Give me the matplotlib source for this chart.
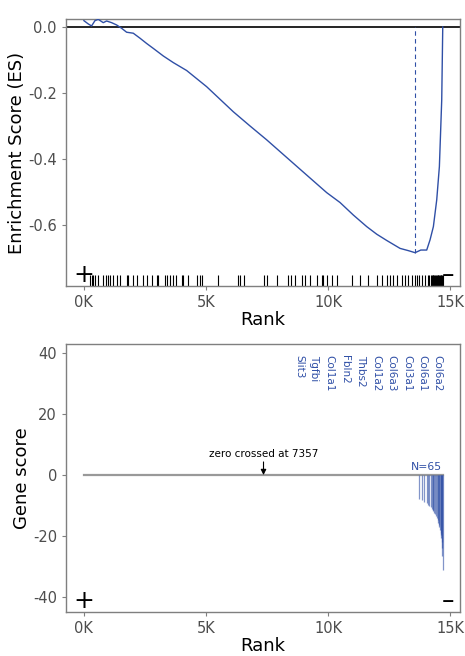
import matplotlib
matplotlib.use("Agg")
import matplotlib.pyplot as plt
import numpy as np

plt.rcParams['font.family'] = ['DejaVu Sans']
plt.rcParams['axes.unicode_minus'] = False

# ---------------- data ----------------
n_genes = 14700
zero_cross = 7357
n_label = "N=65"

# running enrichment score
es_rank = [0, 180, 314, 451, 587, 792, 929, 1134, 1339, 1544, 1749, 2022, 2295,
           2568, 2842, 3252, 3661, 4003, 4208, 5027, 6120, 6803, 7486, 8852,
           9945, 10492, 11038, 11585, 11995, 12405, 12951, 13300, 13566, 13800,
           14043, 14180, 14316, 14453, 14562, 14658, 14700]
es_value = [0.019, 0.009, 0.003, 0.019, 0.023, 0.013, 0.018, 0.013, 0.006, -0.004,
            -0.016, -0.019, -0.034, -0.050, -0.065, -0.088, -0.108, -0.123, -0.132,
            -0.181, -0.257, -0.300, -0.342, -0.431, -0.502, -0.532, -0.570, -0.605,
            -0.628, -0.647, -0.671, -0.678, -0.684, -0.676, -0.676, -0.645, -0.605,
            -0.524, -0.423, -0.221, 0.0]
es_peak_rank = 13566

# ranks of gene-set members (rug)
rug_ranks = [246, 314, 383, 451, 587, 792, 902, 997, 1066, 1175, 1339, 1475, 1749,
             1817, 2022, 2158, 2432, 2596, 2773, 2978, 3046, 3320, 3388, 3525, 3661,
             3770, 4003, 4071, 4276, 4617, 4754, 4822, 5505, 6325, 6393, 6571, 7391,
             7486, 7896, 8374, 8484, 8648, 8921, 9057, 9262, 9535, 9740, 9808, 9973,
             10150, 10355, 10970, 11311, 11653, 11995, 12200, 12405, 12541, 12678,
             12842, 13019, 13156, 13292, 13429, 13566, 13634, 13743, 13839, 13975,
             14111, 14152, 14200, 14248, 14290, 14316, 14350, 14385, 14420, 14453,
             14490, 14521, 14562, 14590, 14617, 14644, 14672, 14695]

# gene scores of the visible (strongly negative) members
bar_ranks = [13743, 13839, 13934, 14043, 14111, 14152, 14200, 14248, 14290, 14316,
             14350, 14385, 14420, 14453, 14490, 14521, 14545, 14562, 14590, 14617,
             14630, 14644, 14658, 14672, 14685, 14695]
bar_scores = [-7.8, -8.2, -8.8, -9.3, -9.8, -10.2, -10.6, -11.0, -11.5, -11.9,
              -12.4, -12.9, -13.5, -14.1, -14.8, -15.6, -16.3, -17.2, -18.0, -19.0,
              -19.8, -20.8, -22.0, -24.0, -26.5, -31.0]

gene_labels = ["Slit3", "Tgfbi", "Col1a1", "Fbln2", "Thbs2", "Col1a2", "Col6a3",
               "Col3a1", "Col6a1", "Col6a2"]

es_ticks = [0.0, -0.2, -0.4, -0.6]
score_ticks = [40, 20, 0, -20, -40]
rank_ticks = [0, 5000, 10000, 15000]
rank_ticklabels = ["0K", "5K", "10K", "15K"]

# ---------------- style ----------------
blue = '#2F4FA6'
frame_col = '#7f7f7f'
tick_col = '#4d4d4d'

fig = plt.figure(figsize=(4.65, 6.56), dpi=100)
ax1 = fig.add_axes([0.1419, 0.564, 0.8473, 0.407])
ax2 = fig.add_axes([0.1419, 0.0671, 0.8473, 0.4085])

xlim = (-0.05 * n_genes, 1.048 * n_genes)


def style(ax):
    for s in ax.spines.values():
        s.set_color(frame_col)
        s.set_linewidth(1.0)
    ax.tick_params(colors=frame_col, labelcolor=tick_col, labelsize=10.5,
                   length=3, width=0.8)
    ax.set_xlim(*xlim)
    ax.set_xticks(rank_ticks)
    ax.set_xticklabels(rank_ticklabels)
    ax.set_xlabel("Rank", fontsize=13, labelpad=1)


# ---- top panel ----
style(ax1)
ax1.set_ylim(-0.785, 0.024)
ax1.axhline(0, color='black', lw=1.2, zorder=1)
ax1.plot(es_rank, es_value, color=blue, lw=1.0, zorder=3)
min_es = min(es_value)
ax1.plot([es_peak_rank, es_peak_rank], [min_es, 0], color=blue, lw=0.8,
         ls=(0, (4, 3)), zorder=2)
ax1.vlines(rug_ranks, -0.785, -0.752, color='black', lw=0.8, zorder=2)
ax1.text(0, -0.752, "+", fontsize=18, ha='center', va='center', color='black')
ax1.text(n_genes * 1.015, -0.752, "–", fontsize=18, ha='center', va='center',
         color='black')
ax1.set_yticks(es_ticks)
ax1.set_yticklabels([f"{t:.1f}" for t in es_ticks])
ax1.set_ylabel("Enrichment Score (ES)", fontsize=13, labelpad=1.5)

# ---- bottom panel ----
style(ax2)
ax2.set_ylim(-44.9, 42.95)
ax2.plot([0, n_genes], [0, 0], color='#999999', lw=1.6, zorder=1)
ax2.vlines(bar_ranks, 0, bar_scores, color=blue, lw=0.9, alpha=0.6, zorder=2)
ax2.annotate("zero crossed at " + str(zero_cross), xy=(zero_cross, 0),
             xytext=(zero_cross, 5.2), ha='center', va='bottom', fontsize=7.5,
             arrowprops=dict(arrowstyle='-|>', color='black', lw=0.8,
                             mutation_scale=8, shrinkA=0, shrinkB=0))
ax2.text(n_genes * 0.997, 1.0, n_label, color=blue, fontsize=7.8, ha='right',
         va='bottom')
label_x = np.linspace(8810, 14500, len(gene_labels))
for lx, lab in zip(label_x, gene_labels):
    ax2.text(lx, 39.2, lab, rotation=270, color=blue, fontsize=7.5,
             ha='center', va='top')
ax2.text(0, -41.3, "+", fontsize=18, ha='center', va='center', color='black')
ax2.text(n_genes * 1.015, -41.3, "–", fontsize=18, ha='center', va='center',
         color='black')
ax2.set_yticks(score_ticks)
ax2.set_yticklabels([str(t) for t in score_ticks])
ax2.set_ylabel("Gene score", fontsize=13, labelpad=1.5)

fig.savefig("out.png", dpi=100)
